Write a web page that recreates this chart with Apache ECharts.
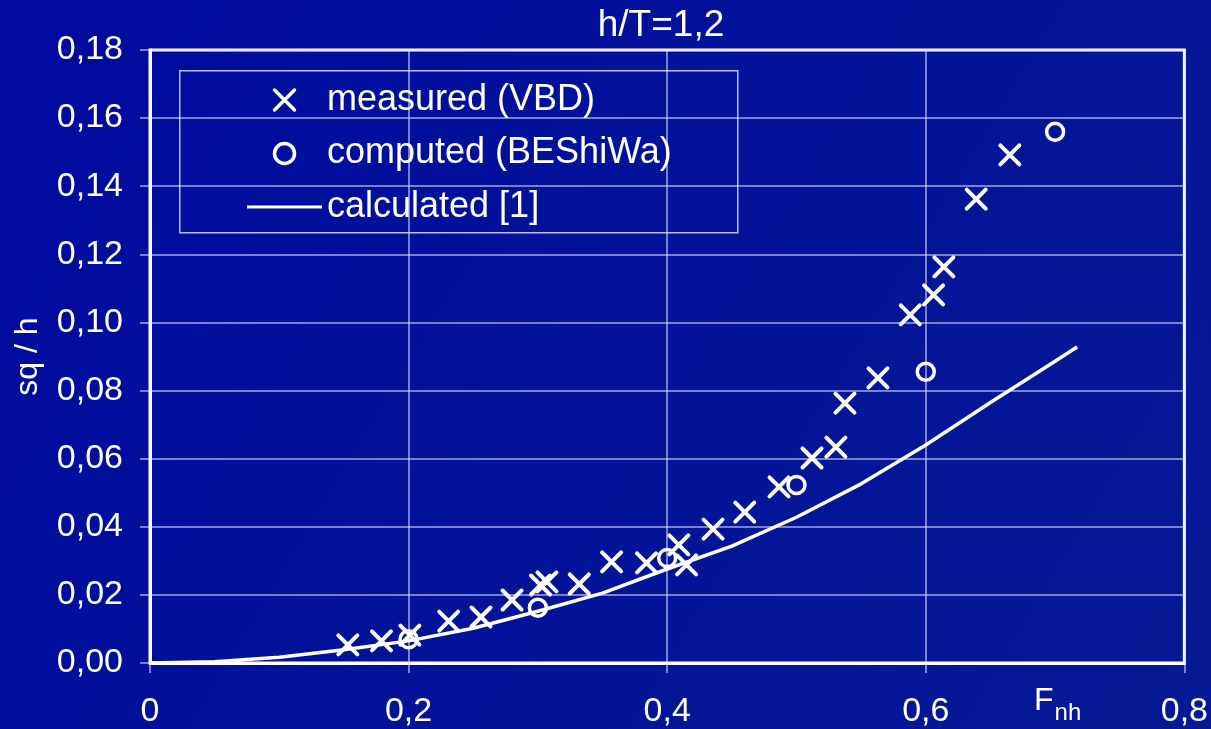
<!DOCTYPE html>
<html>
<head>
<meta charset="utf-8">
<script src="https://cdn.jsdelivr.net/npm/echarts@6/dist/echarts.min.js"></script>
<style>
html,body{margin:0;padding:0;background:#000c9c;}
#chart{width:1211px;height:729px;}
</style>
</head>
<body>
<div id="chart"></div>
<script>
// ---- data ----
const titleText = 'h/T=1,2';
const yAxisName = 'sq / h';
const xAxisName = 'F';
const xAxisSub = 'nh';
const seriesNames = ['measured (VBD)', 'computed (BEShiWa)', 'calculated [1]'];

const measuredX = [0.153, 0.179, 0.201, 0.231, 0.256, 0.280, 0.302, 0.307, 0.332, 0.357, 0.384, 0.409, 0.415, 0.4355, 0.460, 0.4865, 0.512, 0.5305, 0.5375, 0.563, 0.588, 0.606, 0.614, 0.639, 0.665];
const measuredY = [0.0053, 0.0065, 0.0082, 0.0123, 0.0135, 0.0185, 0.0229, 0.0238, 0.0232, 0.0297, 0.0294, 0.0347, 0.0288, 0.0393, 0.0443, 0.0517, 0.0602, 0.0634, 0.0763, 0.0837, 0.1022, 0.1081, 0.1163, 0.1362, 0.1492];

const computedX = [0.2, 0.3, 0.4, 0.5, 0.6, 0.7];
const computedY = [0.0070, 0.0162, 0.0308, 0.0523, 0.0855, 0.1560];

const calcX = [0, 0.05, 0.1, 0.15, 0.2, 0.25, 0.3, 0.35, 0.4, 0.45, 0.5, 0.55, 0.6, 0.65, 0.7, 0.717];
const calcY = [0, 0.0004, 0.0017, 0.0039, 0.0065, 0.0102, 0.0152, 0.0205, 0.0276, 0.0343, 0.0428, 0.0526, 0.0640, 0.0765, 0.0886, 0.0928];

const xTicks = {min: 0, max: 0.8, interval: 0.2};
const yTicks = {min: 0, max: 0.18, interval: 0.02};

// ---- build ----
const zip = (a, b) => a.map((v, i) => [v, b[i]]);
const FONT = "'Liberation Sans', Arial, sans-serif";
const gridColor = 'rgba(225,225,255,0.72)';
const crossPath = 'path://M0,0L10,10M10,0L0,10';
const lineIcon = 'path://M0,0L25,0L25,1L0,1Z';
const hollow = {color: 'rgba(0,0,0,0)', borderColor: '#fff', borderWidth: 3.5, borderCap: 'round'};

const chart = echarts.init(document.getElementById('chart'), null, {renderer: 'canvas'});
chart.setOption({
  animation: false,
  backgroundColor: {
    type: 'linear', x: 0, y: 0, x2: 1, y2: 1,
    colorStops: [{offset: 0, color: '#000a9f'}, {offset: 1, color: '#061a94'}]
  },
  textStyle: {fontFamily: FONT},
  title: {
    text: titleText, left: 656, textAlign: 'center', top: 2,
    textStyle: {color: '#fff', fontSize: 37, fontWeight: 'normal', fontFamily: FONT}
  },
  grid: {
    left: 150, right: 24, top: 50, bottom: 66,
    show: true, borderColor: '#fff', borderWidth: 3, backgroundColor: 'transparent'
  },
  legend: {
    orient: 'vertical', left: 247, top: 80,
    data: [
      {name: seriesNames[0], icon: crossPath, itemStyle: hollow},
      {name: seriesNames[1], icon: 'circle', itemStyle: hollow},
      {name: seriesNames[2], icon: lineIcon, itemStyle: {color: '#fff', borderWidth: 0}}
    ],
    itemWidth: 75, itemHeight: 20, itemGap: 13.5,
    padding: 0,
    textStyle: {color: '#fff', fontSize: 36, lineHeight: 40, fontFamily: FONT},
    inactiveColor: '#fff'
  },
  xAxis: {
    type: 'value', min: xTicks.min, max: xTicks.max, interval: xTicks.interval,
    axisLine: {show: true, lineStyle: {color: '#fff', width: 3}},
    axisTick: {show: true, length: 10, lineStyle: {color: gridColor, width: 1.5}},
    splitLine: {show: true, lineStyle: {color: gridColor, width: 1.5}},
    axisLabel: {
      color: '#fff', fontSize: 34, margin: 32, fontFamily: FONT,
      formatter: v => (v === 0 ? '0' : String(+v.toFixed(1)).replace('.', ','))
    }
  },
  yAxis: {
    type: 'value', min: yTicks.min, max: yTicks.max, interval: yTicks.interval,
    name: yAxisName, nameLocation: 'middle', nameGap: 106, nameRotate: 90,
    nameTextStyle: {color: '#fff', fontSize: 32, fontFamily: FONT},
    axisLine: {show: true, lineStyle: {color: '#fff', width: 3}},
    axisTick: {show: true, length: 10, lineStyle: {color: gridColor, width: 1.5}},
    splitLine: {show: true, lineStyle: {color: gridColor, width: 1.5}},
    axisLabel: {
      color: '#fff', fontSize: 34, margin: 27, fontFamily: FONT,
      formatter: v => v.toFixed(2).replace('.', ',')
    }
  },
  graphic: [
    {
      type: 'rect', left: 179, top: 70, z: 1, silent: true,
      shape: {width: 558, height: 162},
      style: {fill: 'transparent', stroke: 'rgba(235,235,255,0.8)', lineWidth: 1.5}
    },
    {
      type: 'text', left: 1034, top: 685, z: 10,
      style: {
        text: '{a|' + xAxisName + '}{b|' + xAxisSub + '}',
        fill: '#fff',
        rich: {
          a: {fontSize: 32, fill: '#fff', color: '#fff', fontFamily: FONT, verticalAlign: 'bottom', lineHeight: 32},
          b: {fontSize: 24, fill: '#fff', color: '#fff', fontFamily: FONT, verticalAlign: 'bottom', lineHeight: 32, padding: [0, 0, -8, 1]}
        }
      }
    }
  ],
  series: [
    {
      name: seriesNames[2], type: 'line', data: zip(calcX, calcY),
      symbol: 'none', showSymbol: false, smooth: false, clip: false, z: 2,
      lineStyle: {color: '#fff', width: 3.5},
      itemStyle: {color: '#fff'}
    },
    {
      name: seriesNames[0], type: 'scatter', data: zip(measuredX, measuredY),
      symbol: crossPath, symbolSize: 19, z: 3,
      itemStyle: {color: 'rgba(0,0,0,0)', borderColor: '#fff', borderWidth: 4, borderCap: 'round', opacity: 1}
    },
    {
      name: seriesNames[1], type: 'scatter', data: zip(computedX, computedY),
      symbol: 'circle', symbolSize: 17, z: 3,
      itemStyle: {color: 'rgba(0,0,0,0)', borderColor: '#fff', borderWidth: 3.5, opacity: 1}
    }
  ]
});
</script>
</body>
</html>
